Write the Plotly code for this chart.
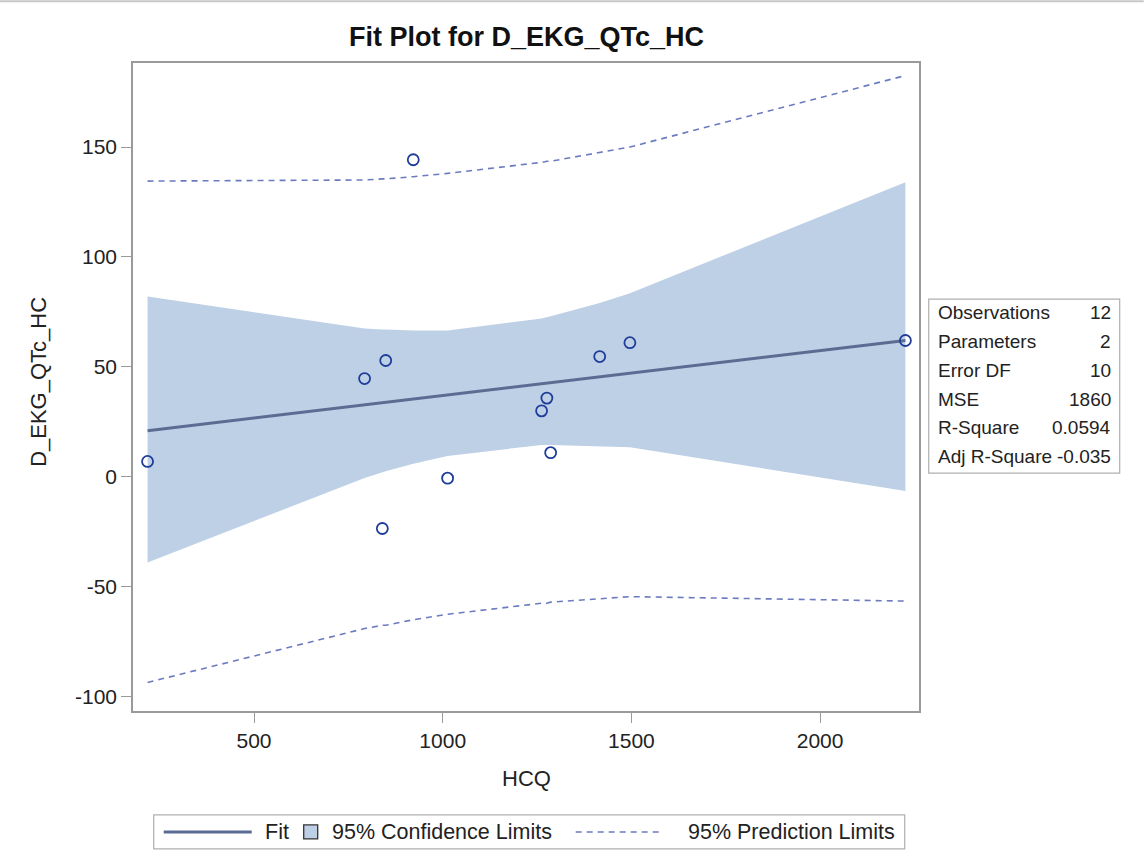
import plotly.graph_objects as go

# ---------------- data ----------------
hcq = [218, 793, 840, 849, 922, 1013, 1262, 1276, 1286, 1416, 1496, 2226]
qtc = [7.0, 44.7, -23.5, 52.9, 144.2, -0.6, 30.0, 35.8, 11.0, 54.7, 61.0, 62.0]

curve_x = [218, 793, 840, 849, 922, 1013, 1262, 1276, 1286, 1416, 1496, 2226]
fit_y = [21.0, 32.7, 33.7, 33.9, 35.4, 37.2, 42.3, 42.6, 42.8, 45.4, 47.1, 62.0]
cl_upper = [82.0, 67.5, 67.0, 67.0, 66.5, 66.5, 72.0, 72.5, 73.0, 79.0, 83.5, 134.0]
cl_lower = [-39.0, -0.5, 2.0, 2.5, 6.0, 9.5, 14.5, 14.5, 14.5, 14.0, 13.5, -6.5]
pl_upper = [134.5, 135.0, 135.5, 135.5, 136.5, 138.0, 143.0, 143.5, 143.5, 147.5, 150.0, 182.5]
pl_lower = [-93.5, -69.0, -67.5, -67.5, -65.0, -62.5, -57.5, -57.5, -57.0, -55.5, -54.5, -56.5]

x_ticks = [500, 1000, 1500, 2000]
y_ticks = [-100, -50, 0, 50, 100, 150]

stat_labels = ["Observations", "Parameters", "Error DF", "MSE", "R-Square", "Adj R-Square"]
stat_values = ["12", "2", "10", "1860", "0.0594", "-0.035"]

legend_labels = ["Fit", "95% Confidence Limits", "95% Prediction Limits"]

title_text = "Fit Plot for D_EKG_QTc_HC"
x_title = "HCQ"
y_title = "D_EKG_QTc_HC"

# ---------------- style ----------------
FONT = "Liberation Sans, Arial, sans-serif"
TXT = "#222222"
BAND = "#BED0E6"
FITC = "#5B6C93"
PRED = "#6B7BC0"
MARK = "#1F3D99"
FRAME = "#9A9A9A"

W, H = 1144, 856
PL, PR, PT, PB = 133.3, 919.3, 62.7, 711.0


def px(x):
    return (x - PL) / (PR - PL)


def py(y):
    return (PB - y) / (PB - PT)


fig = go.Figure()

# confidence band
fig.add_trace(go.Scatter(
    x=curve_x + curve_x[::-1],
    y=cl_upper + cl_lower[::-1],
    fill="toself", fillcolor=BAND, mode="lines",
    line=dict(width=0, color=BAND), hoverinfo="skip", showlegend=False,
))

# prediction limits
fig.add_trace(go.Scatter(
    x=curve_x + [None] + curve_x,
    y=pl_upper + [None] + pl_lower,
    mode="lines", line=dict(color=PRED, width=1.6, dash="6px,5px"),
    showlegend=False,
))

# fit line
fig.add_trace(go.Scatter(
    x=curve_x, y=fit_y, mode="lines",
    line=dict(color=FITC, width=3), showlegend=False,
))

# observations
fig.add_trace(go.Scatter(
    x=hcq, y=qtc, mode="markers",
    marker=dict(symbol="circle-open", size=11, color=MARK, line=dict(width=1.8, color=MARK)),
    showlegend=False,
))

shapes = []
annotations = []

# statistics inset
shapes.append(dict(type="rect", xref="paper", yref="paper",
                   x0=px(929), x1=px(1120), y0=py(299), y1=py(473),
                   line=dict(color="#B0B0B0", width=1.2), fillcolor="white", layer="above"))
row_y = [312, 341, 370, 399, 427.5, 456]
for lab, val, yy in zip(stat_labels, stat_values, row_y):
    annotations.append(dict(xref="paper", yref="paper", x=px(936), y=py(yy),
                            text=lab, showarrow=False, xanchor="left", yanchor="middle",
                            font=dict(family=FONT, size=19, color=TXT)))
    annotations.append(dict(xref="paper", yref="paper", x=px(1113), y=py(yy),
                            text=val, showarrow=False, xanchor="right", yanchor="middle",
                            font=dict(family=FONT, size=19, color=TXT)))

# legend (drawn)
LY = 832
shapes.append(dict(type="rect", xref="paper", yref="paper",
                   x0=px(154), x1=px(905), y0=py(815), y1=py(849),
                   line=dict(color="#B0B0B0", width=1.2), fillcolor="white"))
shapes.append(dict(type="line", xref="paper", yref="paper",
                   x0=px(164), x1=px(252), y0=py(LY), y1=py(LY),
                   line=dict(color=FITC, width=3)))
shapes.append(dict(type="rect", xref="paper", yref="paper",
                   x0=px(304), x1=px(318), y0=py(LY - 7), y1=py(LY + 7),
                   line=dict(color="#333333", width=1.3), fillcolor=BAND))
shapes.append(dict(type="line", xref="paper", yref="paper",
                   x0=px(576), x1=px(664), y0=py(LY), y1=py(LY),
                   line=dict(color=PRED, width=1.6, dash="6px,5px")))
for lab, xx in zip(legend_labels, [263, 330, 686]):
    annotations.append(dict(xref="paper", yref="paper", x=px(xx), y=py(LY),
                            text=lab, showarrow=False, xanchor="left", yanchor="middle",
                            font=dict(family=FONT, size=21.5, color=TXT)))

# title and axis titles
annotations.append(dict(xref="paper", yref="paper", x=px(527), y=py(37),
                        text="<b>" + title_text + "</b>", showarrow=False,
                        xanchor="center", yanchor="middle",
                        font=dict(family=FONT, size=27, color="#111111")))
annotations.append(dict(xref="paper", yref="paper", x=px(527), y=py(779),
                        text=x_title, showarrow=False, xanchor="center", yanchor="middle",
                        font=dict(family=FONT, size=22, color=TXT)))
annotations.append(dict(xref="paper", yref="paper", x=px(38), y=py(382),
                        text=y_title, showarrow=False, xanchor="center", yanchor="middle",
                        textangle=-90, font=dict(family=FONT, size=22, color=TXT)))

# thin grey line at top of the image
shapes.append(dict(type="line", xref="paper", yref="paper",
                   x0=px(0), x1=px(W), y0=py(1), y1=py(1),
                   line=dict(color="#C8C8C8", width=2)))

fig.update_layout(
    width=W, height=H,
    margin=dict(l=PL, r=W - PR, t=PT, b=H - PB, pad=0),
    paper_bgcolor="white", plot_bgcolor="white",
    showlegend=False,
    shapes=shapes, annotations=annotations,
    font=dict(family=FONT, color=TXT),
)
fig.update_xaxes(
    range=[179.4, 2262], tickvals=x_ticks, ticktext=[str(v) for v in x_ticks],
    showgrid=False, zeroline=False,
    showline=True, mirror=True, linecolor=FRAME, linewidth=1.5,
    ticks="outside", ticklen=10, tickcolor=FRAME, tickwidth=1.2,
    tickfont=dict(family=FONT, size=21, color=TXT),
)
fig.update_yaxes(
    range=[-106.5, 188.2], tickvals=y_ticks, ticktext=[str(v) for v in y_ticks],
    showgrid=False, zeroline=False,
    showline=True, mirror=True, linecolor=FRAME, linewidth=1.5,
    ticks="outside", ticklen=10, tickcolor=FRAME, tickwidth=1.2,
    tickfont=dict(family=FONT, size=21, color=TXT),
)

fig.write_html("out.html", config={"displayModeBar": False},
               post_script="document.body.style.margin='0';")
